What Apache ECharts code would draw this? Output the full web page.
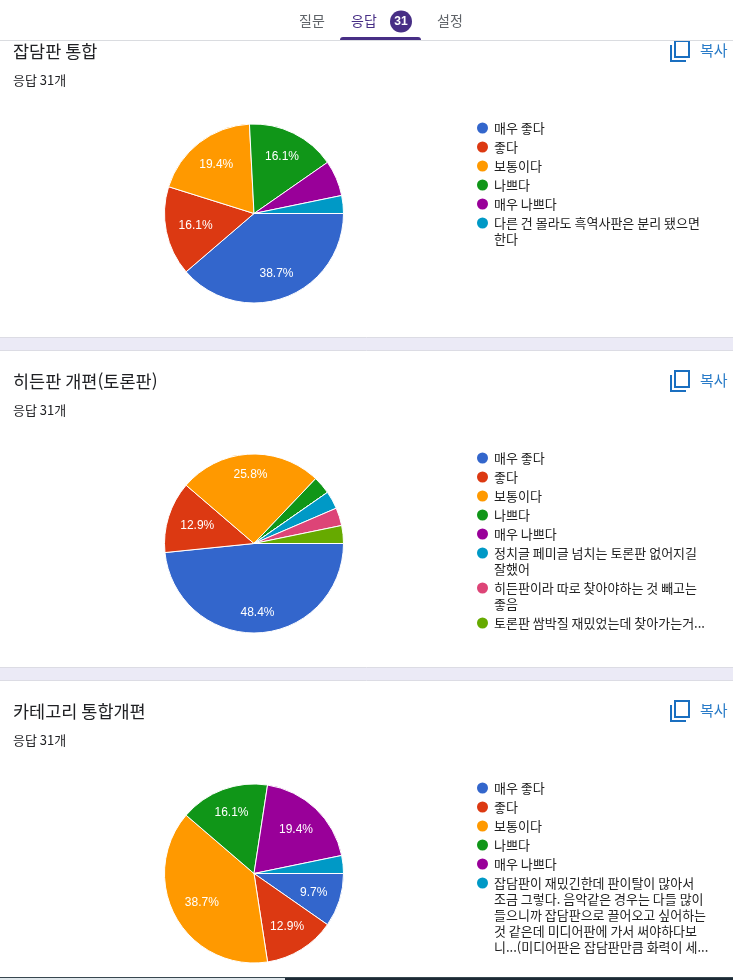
<!DOCTYPE html>
<html lang="ko">
<head>
<meta charset="utf-8">
<title>응답 요약</title>
<style>
  html, body { margin: 0; padding: 0; background: #fff; }
  #chart { width: 733px; height: 980px; }
</style>
<script src="https://cdn.jsdelivr.net/npm/echarts@6/dist/echarts.min.js"></script>
</head>
<body>
<div id="chart"></div>
<script>
// Survey answers: response counts out of 31, in legend order.
const sliceColors = ['#3366cc', '#dc3912', '#ff9900', '#109618', '#990099', '#0099c6', '#dd4477', '#66aa00'];

const baseChoices = ['매우 좋다', '좋다', '보통이다', '나쁘다', '매우 나쁘다'];

const boardMergeTitle = '잡담판 통합';
const boardMergeChoices = [...baseChoices,
  '다른 건 몰라도 흑역사판은 분리 됐으면\n한다'];
const boardMergeCounts = [12, 5, 6, 5, 2, 1];

const hiddenBoardTitle = '히든판 개편(토론판)';
const hiddenBoardChoices = [...baseChoices,
  '정치글 페미글 넘치는 토론판 없어지길\n잘했어',
  '히든판이라 따로 찾아야하는 것 빼고는\n좋음',
  '토론판 쌈박질 재밌었는데 찾아가는거...'];
const hiddenBoardCounts = [15, 4, 8, 1, 0, 1, 1, 1];

const categoryTitle = '카테고리 통합개편';
const categoryChoices = [...baseChoices,
  '잡담판이 재밌긴한데 판이탈이 많아서\n조금 그렇다. 음악같은 경우는 다들 많이\n들으니까 잡담판으로 끌어오고 싶어하는\n것 같은데 미디어판에 가서 써야하다보\n니...(미디어판은 잡담판만큼 화력이 세...'];
const categoryCounts = [3, 4, 12, 5, 6, 1];

const tabLabels = ['질문', '응답', '설정'];
const responseTotal = '31';
const responseCaption = '응답 31개';
const copyLabel = '복사';

const krFont = '"Noto Sans CJK KR", "Noto Sans", sans-serif';
const labelFont = '"Liberation Sans", Arial, sans-serif';

const panels = [
  { title: boardMergeTitle, names: boardMergeChoices, counts: boardMergeCounts, cy: 213.5, titleY: 43, legendY: 128, iconY: 40 },
  { title: hiddenBoardTitle, names: hiddenBoardChoices, counts: hiddenBoardCounts, cy: 543.5, titleY: 373, legendY: 458, iconY: 370 },
  { title: categoryTitle, names: categoryChoices, counts: categoryCounts, cy: 873.5, titleY: 703, legendY: 788, iconY: 700 }
];

const CX = 254;
const R = 89.5;
const LABEL_CORNER_R = 77.5;  // farthest corner of a percentage label sits on this circle
const LINE = 16;              // legend text line height
const ROW_GAP = 3;            // gap between legend entries
const MIN_LABEL_SHARE = 0.09; // thinner slices stay unlabelled

// Puts a label on its slice's middle angle, as far out as the corner circle allows.
function placeLabel(params) {
  const p = panels[params.seriesIndex];
  const total = p.counts.reduce((a, b) => a + b, 0);
  const before = p.counts.slice(0, params.dataIndex).reduce((a, b) => a + b, 0);
  const mid = (before + p.counts[params.dataIndex] / 2) / total * 2 * Math.PI;
  const c = Math.cos(mid), s = Math.sin(mid);
  const hw = params.labelRect.width / 2, hh = params.labelRect.height / 2;
  const b = Math.abs(c) * hw + Math.abs(s) * hh;
  const t = -b + Math.sqrt(b * b - (hw * hw + hh * hh - LABEL_CORNER_R * LABEL_CORNER_R));
  return { x: CX + c * t, y: p.cy + s * t, align: 'center', verticalAlign: 'middle' };
}

const series = [];
const legends = [];
const titles = [];
const graphics = [];

panels.forEach((p) => {
  const total = p.counts.reduce((a, b) => a + b, 0);

  series.push({
    type: 'pie', center: [CX, p.cy], radius: R, startAngle: 0, clockwise: true,
    silent: true, animation: false, percentPrecision: 1,
    labelLine: { show: false },
    labelLayout: placeLabel,
    itemStyle: { borderColor: '#ffffff', borderWidth: 1 },
    data: p.names.map((name, i) => ({
      name, value: p.counts[i],
      itemStyle: { color: sliceColors[i] },
      label: {
        show: p.counts[i] / total >= MIN_LABEL_SHARE,
        position: 'inside', formatter: '{d}%',
        color: '#ffffff', fontSize: 12, fontFamily: labelFont
      }
    }))
  });

  // One legend per entry; blank lines above wrapped text keep its first line level with the marker
  let rowCentre = p.legendY;
  p.names.forEach((name) => {
    const lines = name.split('\n').length;
    legends.push({
      data: [name], left: 475, top: rowCentre - (2 * lines - 1) * LINE / 2,
      padding: 0, orient: 'vertical', icon: 'circle', itemWidth: 13, itemHeight: 15,
      selectedMode: false,
      formatter: (n) => '\n'.repeat(lines - 1) + n,
      textStyle: { color: '#222222', fontSize: 13, fontFamily: krFont, lineHeight: LINE }
    });
    rowCentre += lines * LINE + ROW_GAP;
  });

  titles.push({
    text: p.title, subtext: responseCaption, left: 13, top: p.titleY, padding: 0, itemGap: 13,
    textStyle: { color: '#202124', fontSize: 17.5, fontWeight: 'normal', fontFamily: krFont },
    subtextStyle: { color: '#202124', fontSize: 13, fontFamily: krFont }
  });

  // Copy button
  const y = p.iconY;
  graphics.push(
    { type: 'rect', shape: { x: 675, y: y + 1, width: 14, height: 16 }, style: { fill: 'none', stroke: '#1a6fc0', lineWidth: 2 }, z: 5 },
    { type: 'polyline', shape: { points: [[671, y + 5], [671, y + 21], [686, y + 21]] }, style: { fill: 'none', stroke: '#1a6fc0', lineWidth: 2 }, z: 5 },
    { type: 'text', x: 700, y: y + 10, style: { text: copyLabel, fill: '#2a7cc8', font: '15px ' + krFont, textVerticalAlign: 'middle' }, z: 5 }
  );
});

// Section separators
[337, 667].forEach((y) => {
  graphics.push({
    type: 'rect', shape: { x: -2, y: y + 0.5, width: 737, height: 13 },
    style: { fill: '#ebeaf6', stroke: '#dcdce4', lineWidth: 1 }, z: 1
  });
});

// Tab bar across the top
graphics.push(
  { type: 'rect', shape: { x: 0, y: 0, width: 733, height: 40 }, style: { fill: '#ffffff' }, z: 20 },
  { type: 'rect', shape: { x: 0, y: 40, width: 733, height: 1 }, style: { fill: '#dadce0' }, z: 20 },
  { type: 'rect', shape: { x: 340, y: 37, width: 81, height: 3, r: [3, 3, 0, 0] }, style: { fill: '#472e85' }, z: 21 },
  { type: 'circle', shape: { cx: 401, cy: 21.5, r: 11 }, style: { fill: '#472e85' }, z: 21 },
  { type: 'text', x: 401, y: 22, style: { text: responseTotal, fill: '#ffffff', font: 'bold 12px ' + labelFont, textAlign: 'center', textVerticalAlign: 'middle' }, z: 22 }
);
[[312, 0], [364, 1], [450, 2]].forEach(([x, i]) => {
  graphics.push({
    type: 'text', x, y: 21,
    style: { text: tabLabels[i], fill: i === 1 ? '#472e85' : '#5f6368', font: '14px ' + krFont, textAlign: 'center', textVerticalAlign: 'middle' },
    z: 21
  });
});

// Window edge along the bottom
graphics.push(
  { type: 'rect', shape: { x: 0, y: 977, width: 733, height: 1 }, style: { fill: '#37474f' }, z: 20 },
  { type: 'rect', shape: { x: 0, y: 978, width: 285, height: 2 }, style: { fill: '#dfe6ea' }, z: 20 },
  { type: 'rect', shape: { x: 285, y: 978, width: 448, height: 2 }, style: { fill: '#1d2a35' }, z: 20 }
);

const chart = echarts.init(document.getElementById('chart'), null, { renderer: 'canvas' });
chart.setOption({
  animation: false,
  backgroundColor: '#ffffff',
  title: titles,
  legend: legends,
  series,
  graphic: { elements: graphics }
});
</script>
</body>
</html>
